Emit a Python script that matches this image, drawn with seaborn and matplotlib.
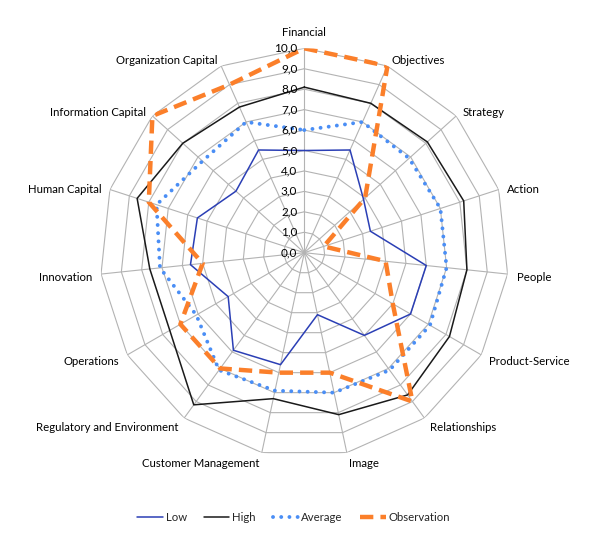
import numpy as np
import pandas as pd
import matplotlib
matplotlib.use("Agg")
import matplotlib.pyplot as plt
import matplotlib.transforms as mtransforms
import seaborn as sns

categories = ["Financial", "Objectives", "Strategy", "Action", "People",
              "Product-Service", "Relationships", "Image", "Customer Management",
              "Regulatory and Environment", "Operations", "Innovation",
              "Human Capital", "Information Capital", "Organization Capital"]

low = [5.0, 5.5, 3.9, 3.4, 6.0, 6.0, 5.0, 3.1, 5.6, 5.9, 4.3, 5.6, 5.5, 4.5, 5.5]
high = [8.1, 8.0, 8.1, 8.2, 8.0, 8.2, 8.6, 8.1, 7.3, 9.2, 7.6, 7.6, 8.6, 8.0, 7.8]
average = [6.0, 7.0, 6.9, 7.0, 7.0, 7.1, 7.1, 7.0, 6.9, 7.1, 6.1, 7.1, 7.6, 6.7, 7.0]
observation = [10, 10, 4, 1, 4, 5, 9, 6, 6, 7, 7, 5, 8, 10, 9]

series_names = ["Low", "High", "Average", "Observation"]
tick_values = list(range(0, 11))
tick_labels = [f"{v},0" for v in tick_values]

sns.set_theme(style="white")
plt.rcParams["font.family"] = ["Lato", "DejaVu Sans"]

W, H, DPI = 604, 534, 100
fig = plt.figure(figsize=(W / DPI, H / DPI), dpi=DPI)
cx, cy, R = 304.3, 252.7, 204.4
ax = fig.add_axes([(cx - R) / W, (H - cy - R) / H, 2 * R / W, 2 * R / H],
                  projection="polar")
ax.set_theta_zero_location("N")
ax.set_theta_direction(-1)
ax.set_ylim(0, 10)
ax.grid(False)
ax.spines["polar"].set_visible(False)
ax.set_xticks([])
ax.set_yticks([])
ax.patch.set_alpha(0)

n = len(categories)
theta = np.linspace(0, 2 * np.pi, n, endpoint=False)
theta_closed = np.append(theta, 2 * np.pi)

grid_color = "#b3b3b3"
for r in tick_values[1:]:
    ax.plot(theta_closed, [r] * (n + 1), color=grid_color, lw=0.8, zorder=1)
for t in theta:
    ax.plot([t, t], [0, 10], color=grid_color, lw=0.8, zorder=1)

styles = {
    "Low": dict(color="#2b3fb5", lw=1.1, linestyle="-"),
    "High": dict(color="#1a1a1a", lw=1.1, linestyle="-"),
    "Average": dict(color="#4a8ef5", lw=2.8, linestyle=(0, (0.01, 2.1)),
                    dash_capstyle="round"),
    "Observation": dict(color="#fb7f2a", lw=3.2, linestyle=(0, (3.0, 1.6)),
                        dash_capstyle="butt"),
}
values = {"Low": low, "High": high, "Average": average, "Observation": observation}

handles = []
for name in series_names:
    vals = list(values[name]) + [values[name][0]]
    df = pd.DataFrame({"theta": theta_closed, "value": vals})
    before = len(ax.lines)
    sns.lineplot(data=df, x="theta", y="value", ax=ax, sort=False,
                 estimator=None, zorder=3, **styles[name])
    handles.append(ax.lines[before])
ax.set_xlabel("")
ax.set_ylabel("")
if ax.get_legend() is not None:
    ax.get_legend().remove()

# radial tick labels along the Financial spoke
tick_tr = mtransforms.offset_copy(ax.transData, fig=fig, x=-7, y=0, units="dots")
for v, lab in zip(tick_values, tick_labels):
    ax.text(0, v, lab, transform=tick_tr, ha="right", va="center",
            fontsize=8.5, color="#000000", zorder=4)

# category labels
d = 9
for t, lab in zip(theta, categories):
    s, c = np.sin(t), np.cos(t)
    dx, dy = d * s, d * c
    if abs(s) < 0.1:
        ha, va = "center", "bottom"
        dy += 1.5
    else:
        ha = "left" if s > 0 else "right"
        va = "center"
        dy -= 2.5
    tr = mtransforms.offset_copy(ax.transData, fig=fig, x=dx, y=dy, units="dots")
    ax.text(t, 10, lab, transform=tr, ha=ha, va=va, fontsize=8.2, color="#000000")

fig.legend(handles, series_names, loc="center", bbox_to_anchor=(0.486, 0.03),
           ncol=4, frameon=False, fontsize=8.2, handlelength=2.25,
           handletextpad=0.25, columnspacing=1.5)

fig.savefig("out.png", dpi=DPI, facecolor="white")
